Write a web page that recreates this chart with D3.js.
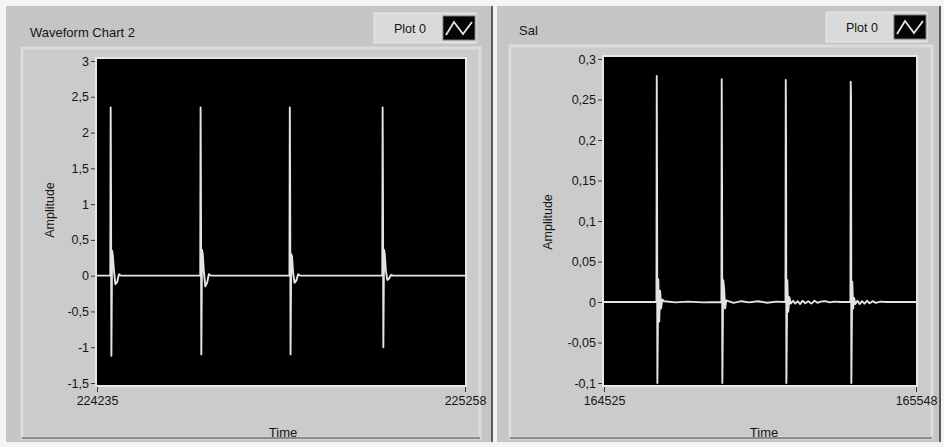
<!DOCTYPE html>
<html lang="en">
<head>
<meta charset="UTF-8" />
<title>Waveform Charts</title>
<style>
  body { margin: 0; background: #f4f4f4; }
  svg text { font-family: "Liberation Sans", Arial, sans-serif; fill: #151515; }
  .tick line { stroke: #3a3a3a; }
  .tick text { font-size: 12.5px; }
</style>
</head>
<body>
<script src="https://cdn.jsdelivr.net/npm/d3@7/dist/d3.min.js"></script>
<script>

// ---- data ----
var leftTitle = "Waveform Chart 2";
var leftXTicks = [224235, 225258];
var leftYTicks = [3, 2.5, 2, 1.5, 1, 0.5, 0, -0.5, -1, -1.5];
var leftT = [224235, 224272, 224273, 224274, 224275, 224277, 224279, 224282, 224286, 224291, 224296, 224302,
             224522, 224523, 224524, 224525, 224527, 224529, 224532, 224536, 224541, 224546, 224552,
             224770, 224771, 224772, 224773, 224775, 224777, 224780, 224784, 224789, 224794, 224800,
             225028, 225029, 225030, 225031, 225033, 225035, 225038, 225042, 225047, 225052, 225058, 225258];
var leftV = [0, 0, 2.35, 1.1, -1.12, 0.35, 0.28, 0.08, -0.12, -0.09, 0.02, 0,
             0, 2.35, 1.08, -1.1, 0.36, 0.3, 0.06, -0.15, -0.1, 0.02, 0,
             0, 2.35, 1.07, -1.1, 0.3, 0.27, 0.05, -0.1, -0.07, 0.02, 0,
             0, 2.35, 1.12, -1.0, 0.36, 0.3, 0.07, -0.06, -0.04, 0.01, 0, 0];

var rightTitle = "Sal";
var rightXTicks = [164525, 165548];
var rightYTicks = [0.3, 0.25, 0.2, 0.15, 0.1, 0.05, 0, -0.05, -0.1];
var rightT = [164525, 164697, 164698, 164699, 164700, 164703, 164706, 164709, 164712, 164716, 164722, 164760, 164800, 164850, 164910,
              164911, 164912, 164913, 164916, 164919, 164922, 164926, 164933, 164950, 164975, 165000, 165030, 165060, 165090, 165120,
              165121, 165122, 165123, 165126, 165129, 165133, 165137, 165145, 165152, 165160, 165168, 165176, 165185, 165195,
              165205, 165215, 165225, 165235, 165250, 165265, 165280, 165300, 165333,
              165334, 165335, 165336, 165339, 165342, 165345, 165349, 165356, 165363, 165371, 165379, 165387, 165396,
              165406, 165416, 165431, 165450, 165548];
var rightV = [0, 0, 0.279, 0.136, -0.1, 0.028, -0.024, 0.014, -0.008, 0.003, 0.001, -0.0005, 0.0005, -0.0005, 0,
              0.275, 0.157, -0.1, 0.027, 0.016, -0.008, 0.002, 0.001, -0.001, 0.001, -0.0005, 0.001, -0.001, 0.0005, 0,
              0.274, 0.197, -0.1, 0.027, -0.012, 0.006, -0.002, 0.0015, -0.002, 0.001, -0.0025, 0.0015, -0.0015, 0.001,
              -0.002, 0.0015, -0.001, 0.0005, 0.001, -0.0005, 0.0005, 0, 0,
              0.272, 0.25, -0.1, 0.025, -0.008, 0.005, -0.0025, 0.0015, -0.0025, 0.001, -0.002, 0.0015, -0.0015,
              0.001, -0.001, 0.0005, 0, 0];

// comma decimal, like the picture
var locale = d3.formatLocale({ decimal: ",", thousands: ".", grouping: [3], currency: ["", ""], minus: "-" });
var fmtY = locale.format("~g");

var svg = d3.select("body").append("svg")
  .attr("width", 944)
  .attr("height", 447);

function drawChart(opt) {
  var g = svg.append("g");

  // panel
  g.append("rect")
    .attr("x", opt.panel[0]).attr("y", opt.panel[1])
    .attr("width", opt.panel[2]).attr("height", opt.panel[3])
    .attr("fill", "#c5c5c5");
  g.append("line")
    .attr("x1", opt.panel[0] + opt.panel[2]).attr("x2", opt.panel[0] + opt.panel[2])
    .attr("y1", opt.panel[1]).attr("y2", opt.panel[1] + opt.panel[3])
    .attr("stroke", "#5a5a5a").attr("stroke-width", 2);

  // inner frame
  g.append("rect")
    .attr("x", opt.frame[0]).attr("y", opt.frame[1])
    .attr("width", opt.frame[2]).attr("height", opt.frame[3])
    .attr("fill", "#cbcbcb")
    .attr("stroke", "#dcdcdc").attr("stroke-width", 3);
  g.append("line")
    .attr("x1", opt.frame[0]).attr("x2", opt.frame[0] + opt.frame[2])
    .attr("y1", opt.frame[1] + opt.frame[3]).attr("y2", opt.frame[1] + opt.frame[3])
    .attr("stroke", "#8c8c8c").attr("stroke-width", 2);

  // title
  g.append("text")
    .attr("x", opt.titlePos[0]).attr("y", opt.titlePos[1])
    .attr("font-size", "13px")
    .text(opt.title);

  // legend
  var lg = g.append("g").attr("transform", "translate(" + opt.legend[0] + "," + opt.legend[1] + ")");
  lg.append("rect").attr("width", opt.legend[2]).attr("height", 30)
    .attr("fill", "#dadada").attr("stroke", "#e8e8e8");
  lg.append("text").attr("x", 20).attr("y", 20).attr("font-size", "12.5px").text("Plot 0");
  lg.append("rect").attr("x", opt.legend[2] - 33).attr("y", 3).attr("width", 32).attr("height", 24)
    .attr("fill", "#050505").attr("stroke", "#777");
  lg.append("path")
    .attr("d", "M" + (opt.legend[2] - 30) + ",22 L" + (opt.legend[2] - 22) + ",9 L" + (opt.legend[2] - 13) + ",21 L" + (opt.legend[2] - 4) + ",9")
    .attr("fill", "none").attr("stroke", "#e6e6e6").attr("stroke-width", 1.8);

  var p = opt.plot;
  var x = d3.scaleLinear().domain([opt.xTicks[0], opt.xTicks[1]]).range([p[0], p[0] + p[2]]);
  var y = d3.scaleLinear()
    .domain([opt.yTicks[opt.yTicks.length - 1], opt.yTicks[0]])
    .range([p[1] + p[3] - 2, p[1] + 2]);

  // plot area
  g.append("rect")
    .attr("x", p[0] - 1).attr("y", p[1] - 1)
    .attr("width", p[2] + 2).attr("height", p[3] + 2)
    .attr("fill", "none").attr("stroke", "#e6e6e6").attr("stroke-width", 2);
  g.append("rect")
    .attr("x", p[0]).attr("y", p[1])
    .attr("width", p[2]).attr("height", p[3])
    .attr("fill", "#000");

  var clipId = "clip-" + opt.id;
  svg.append("clipPath").attr("id", clipId)
    .append("rect")
    .attr("x", p[0]).attr("y", p[1]).attr("width", p[2]).attr("height", p[3]);

  var pts = opt.t.map(function(d, i) { return [d, opt.v[i]]; });
  var line = d3.line()
    .x(function(d) { return x(d[0]); })
    .y(function(d) { return y(d[1]); });

  g.append("path")
    .datum(pts)
    .attr("clip-path", "url(#" + clipId + ")")
    .attr("fill", "none")
    .attr("stroke", "#e4e4e4")
    .attr("stroke-width", 1.9)
    .attr("stroke-linejoin", "round")
    .attr("d", line);

  // axes
  var yAxis = d3.axisLeft(y).tickValues(opt.yTicks).tickSize(4).tickPadding(2).tickFormat(fmtY);
  var ya = g.append("g").attr("transform", "translate(" + (p[0] - 2) + ",0)").call(yAxis);
  ya.select(".domain").remove();

  var xAxis = d3.axisBottom(x).tickValues(opt.xTicks).tickSize(5).tickPadding(4).tickFormat(d3.format("d"));
  var xa = g.append("g").attr("transform", "translate(0," + (p[1] + p[3] + 2) + ")").call(xAxis);
  xa.select(".domain").remove();

  g.append("text")
    .attr("x", p[0] + p[2] / 2 + opt.timeShift).attr("y", 437)
    .attr("text-anchor", "middle")
    .attr("font-size", "13px")
    .text("Time");

  g.append("text")
    .attr("transform", "translate(" + opt.ampPos[0] + "," + opt.ampPos[1] + ") rotate(-90)")
    .attr("text-anchor", "middle")
    .attr("font-size", "12.5px")
    .text("Amplitude");
}

drawChart({
  id: "left",
  title: leftTitle,
  panel: [6, 6, 486, 436],
  frame: [22, 48, 458, 390],
  plot: [97, 59, 368, 326],
  titlePos: [30, 37],
  legend: [374, 13, 102],
  ampPos: [54, 210],
  timeShift: 2,
  xTicks: leftXTicks, yTicks: leftYTicks,
  t: leftT, v: leftV
});

drawChart({
  id: "right",
  title: rightTitle,
  panel: [497, 6, 443, 436],
  frame: [510, 46, 422, 392],
  plot: [604, 57, 312, 328],
  titlePos: [519, 35],
  legend: [826, 12, 101],
  ampPos: [552, 222],
  timeShift: 4,
  xTicks: rightXTicks, yTicks: rightYTicks,
  t: rightT, v: rightV
});

</script>
</body>
</html>
